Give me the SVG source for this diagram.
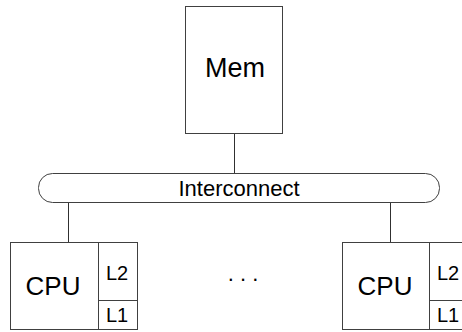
<svg xmlns="http://www.w3.org/2000/svg" width="462" height="332" viewBox="0 0 462 332">
<style>
.box{fill:#fff;stroke:#404040;stroke-width:1}
.ln{stroke:#303030;stroke-width:1;fill:none}
.t{font-family:"Liberation Sans",Arial,sans-serif;fill:#000}
</style>
<rect width="462" height="332" fill="#fff"/>
<g id="connectors">
<line class="ln" x1="234.5" y1="133" x2="234.5" y2="173"/>
<line class="ln" x1="68.5" y1="202" x2="68.5" y2="242"/>
<line class="ln" x1="390.5" y1="202" x2="390.5" y2="242"/>
</g>
<g id="mem">
<rect class="box" x="185.5" y="6.5" width="97" height="127"/>
<text class="t" x="235" y="77" font-size="27" text-anchor="middle">Mem</text>
</g>
<g id="interconnect">
<rect class="box" x="38.5" y="173.5" width="401" height="29" rx="14" ry="14"/>
<text class="t" x="239" y="196" font-size="22" text-anchor="middle">Interconnect</text>
</g>
<g id="cpu1">
<rect class="box" x="10.5" y="242.5" width="88" height="87"/>
<rect class="box" x="98.5" y="242.5" width="39" height="58"/>
<rect class="box" x="98.5" y="300.5" width="39" height="29"/>
<text class="t" x="53" y="295" font-size="26" text-anchor="middle">CPU</text>
<text class="t" x="106" y="280" font-size="20">L2</text>
<text class="t" x="106" y="322" font-size="20">L1</text>
</g>
<g id="dots">
<text class="t" x="243" y="281" font-size="22" text-anchor="middle">. . .</text>
</g>
<g id="cpu2">
<rect class="box" x="342.5" y="242.5" width="87" height="87"/>
<rect class="box" x="429.5" y="242.5" width="39" height="58"/>
<rect class="box" x="429.5" y="300.5" width="39" height="29"/>
<text class="t" x="385" y="295" font-size="26" text-anchor="middle">CPU</text>
<text class="t" x="437" y="280" font-size="20">L2</text>
<text class="t" x="437" y="322" font-size="20">L1</text>
</g>
</svg>
